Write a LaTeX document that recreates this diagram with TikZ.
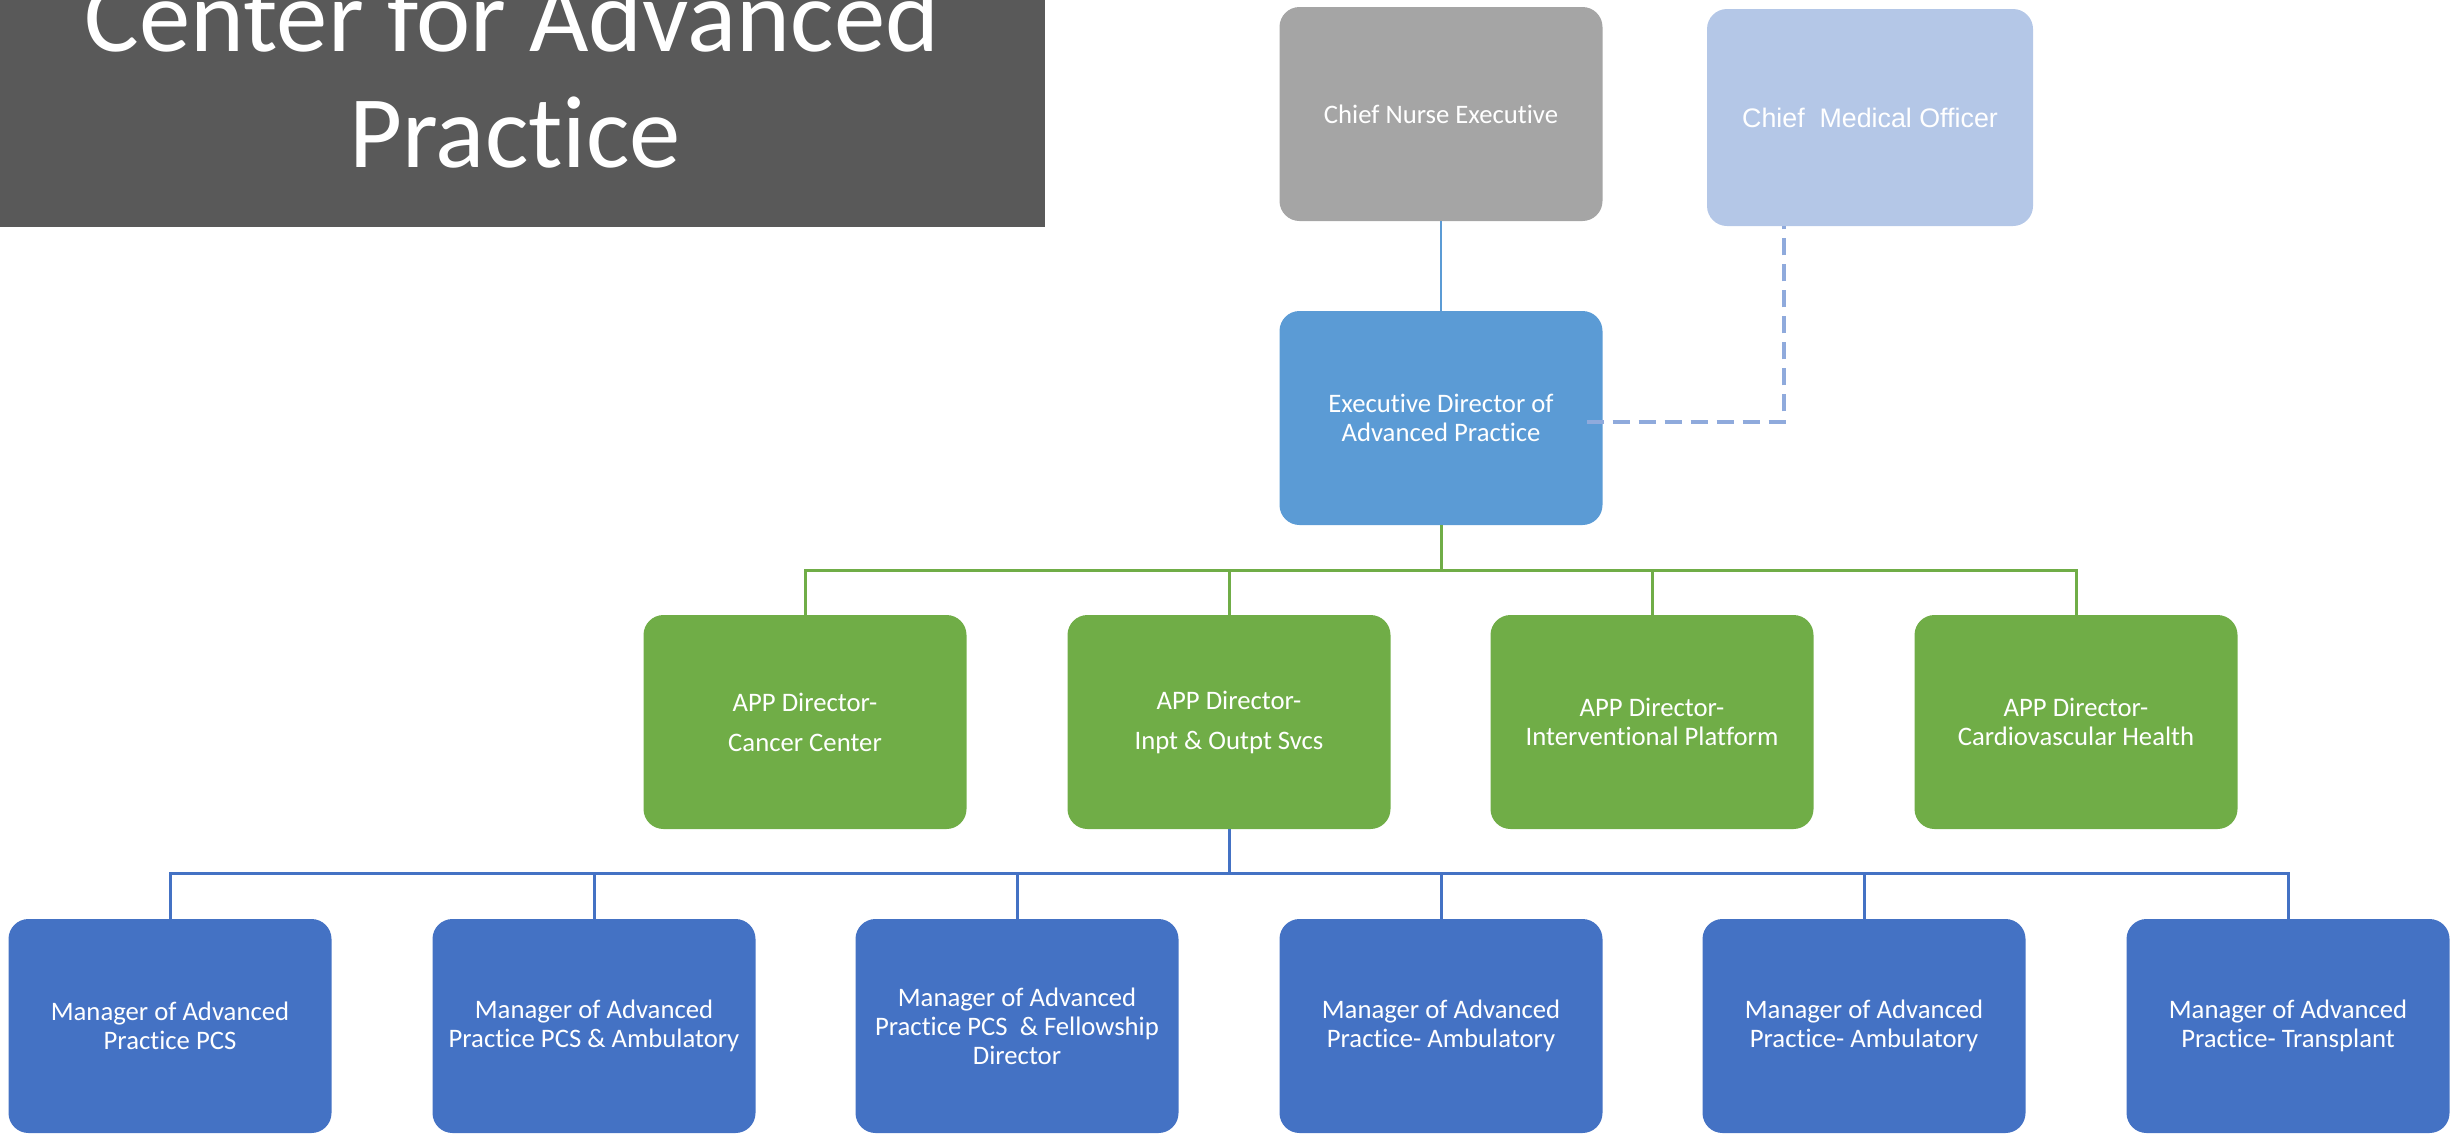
\documentclass[tikz,border=0pt]{standalone}
\usepackage{fontspec}
\setmainfont{Carlito}[Ligatures=NoCommon]
\newfontfamily\arialfont{Liberation Sans}
\definecolor{titlegray}{HTML}{595959}
\definecolor{cnegray}{HTML}{A5A5A5}
\definecolor{cmoblue}{HTML}{B4C7E7}
\definecolor{edblue}{HTML}{5B9BD5}
\definecolor{appgreen}{HTML}{70AD47}
\definecolor{mgrblue}{HTML}{4472C4}
\definecolor{dashblue}{HTML}{8FAADC}
\begin{document}
\begin{tikzpicture}[x=1pt,y=-1pt,
  orgbox/.style={rounded corners=20pt, minimum width=323pt, minimum height=214pt,
    inner sep=0pt, text=white, align=center, font=\fontsize{26.7}{29}\selectfont},
  titletext/.style={anchor=base, inner sep=0pt, text=white,
    font=\fontsize{102.7}{116}\selectfont},
  toplink/.style={draw=edblue, line width=2pt},
  greenlink/.style={draw=appgreen, line width=3pt},
  bluelink/.style={draw=mgrblue, line width=3pt},
  dottedlink/.style={draw=dashblue, line width=4.5pt, dash pattern=on 17pt off 9pt}]
\useasboundingbox (0,0) rectangle (2451,1133);

% title banner
\node[fill=titlegray, minimum width=1045pt, minimum height=227pt, inner sep=0pt,
  anchor=north west] (banner) at (0,0) {};
\node[titletext] (title1) at (512,51) {Center for Advanced};
\node[titletext] (title2) at (515,167) {Practice};

% executive level
\node[orgbox, fill=cnegray] (cne) at (1441,114) {Chief Nurse Executive};
\node[orgbox, fill=cmoblue, minimum width=326pt, minimum height=217pt,
  font=\arialfont\fontsize{26.8}{29}\selectfont] (cmo) at (1870,117.5)
  {Chief\ \ Medical Officer};
\node[orgbox, fill=edblue] (ed) at (1441,418)
  {Executive Director of\\Advanced Practice};

% director level
\node[orgbox, fill=appgreen] (g1) at (805,722) {APP Director-\\[11pt]Cancer Center};
\node[orgbox, fill=appgreen] (g2) at (1229,722) {APP Director-\\[11pt]Inpt \& Outpt Svcs};
\node[orgbox, fill=appgreen] (g3) at (1652,722) {APP Director-\\Interventional Platform};
\node[orgbox, fill=appgreen] (g4) at (2076,722) {APP Director-\\Cardiovascular Health};

% manager level
\node[orgbox, fill=mgrblue] (m1) at (170,1026) {Manager of Advanced\\Practice PCS};
\node[orgbox, fill=mgrblue] (m2) at (594,1026) {Manager of Advanced\\Practice PCS \& Ambulatory};
\node[orgbox, fill=mgrblue] (m3) at (1017,1026)
  {Manager of Advanced\\Practice PCS\ \ \& Fellowship\\Director};
\node[orgbox, fill=mgrblue] (m4) at (1441,1026) {Manager of Advanced\\Practice- Ambulatory};
\node[orgbox, fill=mgrblue] (m5) at (1864,1026) {Manager of Advanced\\Practice- Ambulatory};
\node[orgbox, fill=mgrblue] (m6) at (2288,1026) {Manager of Advanced\\Practice- Transplant};

% reporting lines
\draw[toplink] (cne.south) -- (ed.north);
\coordinate (cmoport) at (1784,226);
\draw[dottedlink] ([xshift=-16pt,yshift=-4pt]ed.east) -| (cmoport);

\foreach \g in {g1,g2,g3,g4}
  \draw[greenlink] (ed.south) -- ++(0,45) -| (\g.north);

\foreach \m in {m1,m2,m3,m4,m5,m6}
  \draw[bluelink] (g2.south) -- ++(0,44) -| (\m.north);
\end{tikzpicture}
\end{document}
